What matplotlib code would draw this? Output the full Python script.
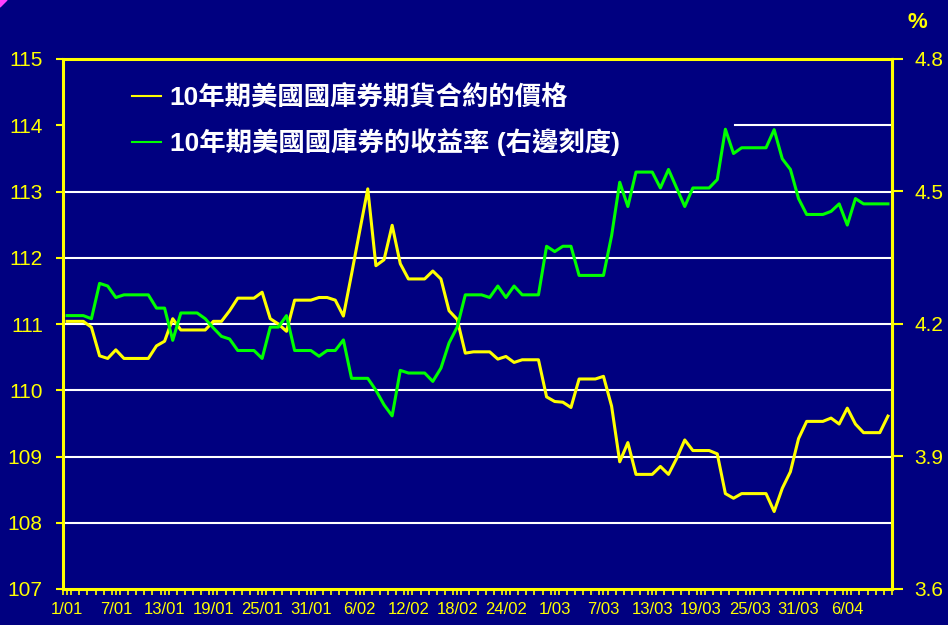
import matplotlib.pyplot as plt
import numpy as np
from matplotlib.lines import Line2D
from matplotlib.patches import Polygon

# daily series, 1 Jan - 11 Apr
price = [111.04, 111.04, 111.04, 110.95, 110.52, 110.48, 110.61, 110.48, 110.48, 110.48,
         110.48, 110.67, 110.74, 111.08, 110.91, 110.91, 110.91, 110.91, 111.04, 111.04,
         111.20, 111.39, 111.39, 111.39, 111.48, 111.08, 111.00, 110.89, 111.36, 111.36,
         111.36, 111.40, 111.40, 111.36, 111.12, 111.75, 112.40, 113.04, 111.88, 111.97,
         112.49, 111.91, 111.68, 111.68, 111.68, 111.80, 111.68, 111.20, 111.07, 110.56,
         110.58, 110.58, 110.58, 110.47, 110.51, 110.42, 110.46, 110.46, 110.46, 109.90,
         109.83, 109.82, 109.74, 110.17, 110.17, 110.17, 110.21, 109.76, 108.92, 109.21,
         108.73, 108.73, 108.73, 108.85, 108.73, 108.97, 109.25, 109.09, 109.09, 109.09,
         109.04, 108.44, 108.37, 108.44, 108.44, 108.44, 108.44, 108.17, 108.52, 108.77,
         109.27, 109.53, 109.53, 109.53, 109.58, 109.49, 109.73, 109.49, 109.36, 109.36,
         109.36, 109.61]

yields = [4.219, 4.219, 4.219, 4.212, 4.292, 4.286, 4.260, 4.266, 4.266, 4.266,
          4.266, 4.236, 4.236, 4.163, 4.225, 4.225, 4.225, 4.212, 4.191, 4.172,
          4.166, 4.140, 4.140, 4.140, 4.122, 4.193, 4.193, 4.219, 4.140, 4.140,
          4.140, 4.127, 4.140, 4.140, 4.164, 4.077, 4.077, 4.077, 4.050, 4.017,
          3.992, 4.095, 4.089, 4.089, 4.089, 4.070, 4.100, 4.157, 4.193, 4.266,
          4.266, 4.266, 4.260, 4.286, 4.260, 4.286, 4.266, 4.266, 4.266, 4.376,
          4.364, 4.376, 4.376, 4.310, 4.310, 4.310, 4.310, 4.400, 4.521, 4.466,
          4.544, 4.544, 4.544, 4.508, 4.550, 4.508, 4.466, 4.508, 4.508, 4.508,
          4.527, 4.641, 4.586, 4.599, 4.599, 4.599, 4.599, 4.640, 4.574, 4.550,
          4.484, 4.448, 4.448, 4.448, 4.455, 4.472, 4.424, 4.484, 4.472, 4.472,
          4.472, 4.472]

date_labels = ['1/01', '7/01', '13/01', '19/01', '25/01', '31/01', '6/02', '12/02', '18/02',
               '24/02', '1/03', '7/03', '13/03', '19/03', '25/03', '31/03', '6/04']
left_ticks = [107, 108, 109, 110, 111, 112, 113, 114, 115]
right_ticks = [3.6, 3.9, 4.2, 4.5, 4.8]

label_price = '10年期美國國庫券期貨合約的價格'
label_yield = '10年期美國國庫券的收益率 (右邊刻度)'

navy = '#000080'
yellow = '#FFFF00'
green = '#00FF00'
fonts = ['Liberation Sans', 'Noto Sans CJK TC']
plt.rcParams['font.family'] = fonts

W, H = 948, 625
fig = plt.figure(figsize=(W / 100, H / 100), dpi=100, facecolor=navy)
ax = fig.add_axes([63 / W, 36 / H, 829 / W, 530 / H])
ax.set_facecolor(navy)

x = np.arange(len(price))
ax.set_xlim(-0.45, 101.2)
ax.set_ylim(107, 115)

# white grid, the 114 line is hidden behind the legend box
for v in left_ticks[1:-2]:
    ax.axhline(v, color='white', lw=1.5, zorder=1)
ax.axhline(114, xmin=(735 - 63) / 829, color='white', lw=1.5, zorder=1)

ax.plot(x, price, color=yellow, lw=2.2, zorder=3)

ax.set_yticks(left_ticks)
ax.set_yticklabels([str(t) for t in left_ticks])
ax.set_xticks(np.arange(0, len(price), 6))
ax.set_xticklabels(date_labels)
ax.set_xticks(np.arange(-0.5, len(price), 1), minor=True)
ax.tick_params(axis='y', direction='out', length=5, width=1.5, colors=yellow,
               labelsize=15, pad=9.5)
ax.tick_params(axis='x', which='both', direction='out', length=4, width=1.2,
               colors=yellow, labelsize=12, pad=5.5)
for s in ax.spines.values():
    s.set_color(yellow)
    s.set_linewidth(2.2)

ax2 = ax.twinx()
ax2.set_ylim(3.6, 4.8)
ax2.plot(x, yields, color=green, lw=2.2, zorder=3)
ax2.set_yticks(right_ticks)
ax2.set_yticklabels([f'{t:.1f}' for t in right_ticks])
ax2.tick_params(axis='y', direction='out', length=8, width=1.5, colors=yellow,
                labelsize=15, pad=8)
for name, s in ax2.spines.items():
    s.set_visible(name == 'right')
    s.set_color(yellow)
    s.set_linewidth(2.2)

handles = [Line2D([], [], color=yellow, lw=1.5), Line2D([], [], color=green, lw=1.5)]
leg = ax.legend(handles, [label_price, label_yield], loc='upper left',
                bbox_to_anchor=(119 / W, 1 - 72 / H), bbox_transform=fig.transFigure,
                frameon=False, borderpad=0, handlelength=1.1, handletextpad=0.32,
                labelspacing=0.67, prop={'family': fonts, 'size': 19, 'weight': 'bold'})
for t in leg.get_texts():
    t.set_color('white')

fig.text(917 / W, 1 - 22 / H, '%', color=yellow, fontsize=16, fontweight='bold',
         ha='center', va='center')

# small pink mark in the top-left corner
fig.patches.append(Polygon([(0, 1), (7 / W, 1), (0, 1 - 7 / H)], closed=True,
                           transform=fig.transFigure, color='#FF40FF'))

fig.savefig('out.png', dpi=100, facecolor=navy)
